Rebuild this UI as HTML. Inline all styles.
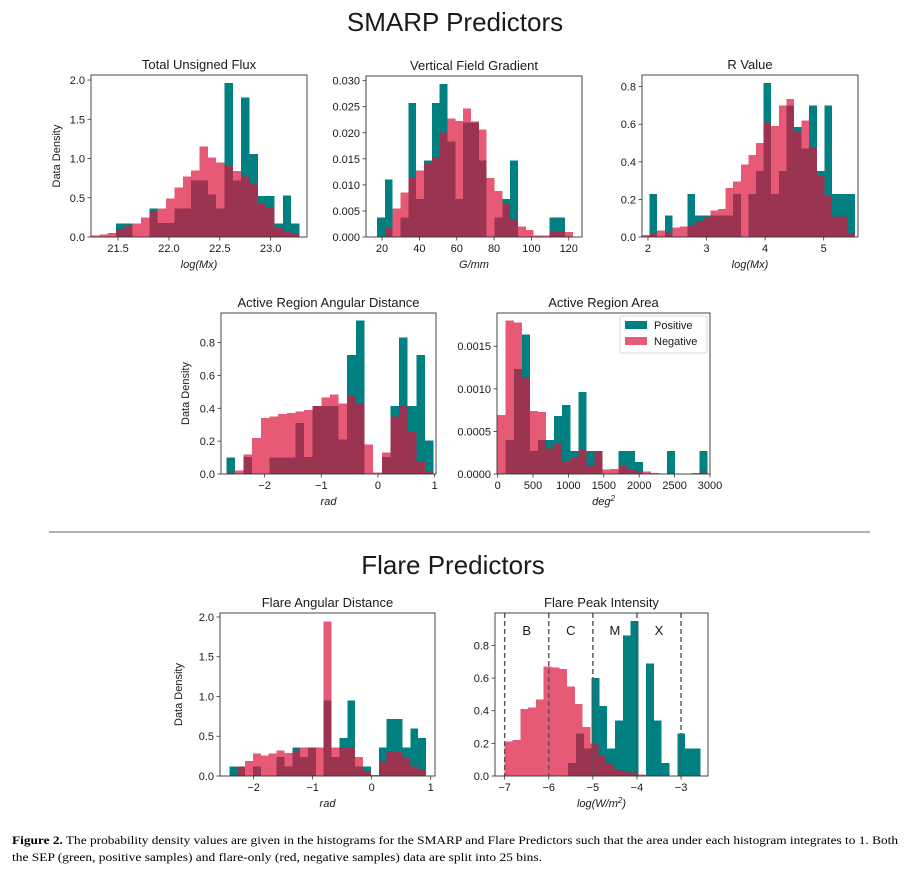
<!DOCTYPE html>
<html><head><meta charset="utf-8"><style>
html,body{margin:0;padding:0;background:#fff;}
svg{display:block;}
text{font-family:"Liberation Sans",sans-serif;fill:#1a1a1a;}
.cap{font-family:"Liberation Serif",serif;font-size:12px;fill:#000;}
</style></head><body>
<svg id="fig" width="908" height="877" viewBox="0 0 908 877" xmlns="http://www.w3.org/2000/svg">
<text x="455" y="31" text-anchor="middle" font-size="26">SMARP Predictors</text>
<line x1="49" y1="532" x2="870" y2="532" stroke="#999" stroke-width="1.5"/>
<text x="453" y="574" text-anchor="middle" font-size="26">Flare Predictors</text>
<text x="12" y="844" class="cap" textLength="886" lengthAdjust="spacingAndGlyphs"><tspan font-weight="bold">Figure 2.</tspan> The probability density values are given in the histograms for the SMARP and Flare Predictors such that the area under each histogram integrates to 1. Both</text>
<text x="12" y="861" class="cap" textLength="530" lengthAdjust="spacingAndGlyphs">the SEP (green, positive samples) and flare-only (red, negative samples) data are split into 25 bins.</text>
</svg>
<script>
// ---- data arrays (densities per bin) ----
const fluxPos=[0,0,0,0.17,0.17,0,0,0.36,0.18,0.18,0.36,0.36,0.72,0.72,0.54,0.36,1.96,0.72,1.78,1.06,0.52,0.52,0.17,0.53,0.17];
const fluxNeg=[0.02,0.03,0.05,0.10,0.14,0.17,0.25,0.33,0.36,0.49,0.63,0.77,0.85,1.15,1.01,0.95,0.91,0.84,0.77,0.68,0.42,0.38,0.13,0.07,0.04];
const vfgPos=[0.0037,0.011,0,0.0037,0.0257,0.0073,0.0147,0.0257,0.0294,0.0183,0.0073,0.022,0.022,0.0147,0,0.0037,0.0073,0.0147,0,0,0,0,0.0037,0.0037,0];
const vfgNeg=[0,0.0018,0.0055,0.0085,0.0113,0.0128,0.014,0.0153,0.0201,0.0227,0.0223,0.0247,0.0222,0.0206,0.0113,0.0088,0.0063,0.0035,0.002,0.0013,0.0003,0.0003,0.001,0.001,0.001];
const rPos=[0,0.23,0,0.115,0,0,0.23,0.115,0.115,0.115,0.115,0.115,0.23,0,0.23,0.35,0.82,0.23,0.35,0.70,0.585,0.47,0.70,0.35,0.70,0.23,0.23,0.23];
const rNeg=[0.01,0.015,0.035,0.025,0.05,0.055,0.06,0.085,0.105,0.14,0.15,0.26,0.295,0.385,0.435,0.5,0.61,0.59,0.70,0.735,0.56,0.62,0.48,0.33,0.22,0.11,0.11,0.02];
const arDistPos=[0.10,0,0.105,0,0,0.10,0.10,0.10,0.31,0.105,0.415,0.415,0.415,0.21,0.725,0.935,0,0,0.105,0.415,0.83,0.415,0.725,0.205];
const arDistNeg=[0.01,0.02,0.12,0.22,0.34,0.35,0.365,0.37,0.38,0.39,0.415,0.465,0.485,0.43,0.475,0.43,0.18,0.01,0.13,0.35,0.415,0.26,0.08,0.015];
const areaPos=[0,0.0004,0.00123,0.00164,0.00027,0.0004,0.0004,0.00068,0.00081,0.00027,0.00096,0.00027,0.00027,0,0,0.00027,0.00027,0.00014,0,0,0,0.00027,0,0,0,0.00027];
const areaNeg=[0.00069,0.0018,0.00178,0.00114,0.00074,0.00073,0.0003,0.00036,0.00015,0.0002,0.00028,0.0001,0.00027,0.00005,0.00006,0.0001,0.00005,0.00003,0.00003,0.00001,0,0.00001,0,0,0.00001,0.00002];
const flDistPos=[0.12,0.12,0,0.12,0,0,0.24,0.12,0.36,0.24,0.36,0,0.95,0.24,0.48,0.95,0.12,0.12,0,0.36,0.72,0.72,0.36,0.60,0.48];
const flDistNeg=[0,0.12,0.19,0.28,0.26,0.28,0.32,0.29,0.32,0.36,0.36,0.36,1.94,0.36,0.36,0.35,0.24,0.06,0.01,0.18,0.31,0.31,0.24,0.12,0.08];
const peakPos=[0.08,0.26,0.17,0.60,0.43,0.17,0.34,0.86,0.95,0,0.69,0.34,0.08,0,0.26,0.17,0.17];
const peakNeg=[0.21,0.22,0.41,0.42,0.47,0.67,0.665,0.655,0.55,0.44,0.30,0.20,0.13,0.08,0.04,0.03,0.02,0.01,0.005];
const fluxTicksX=[21.5,22.0,22.5,23.0], fluxTicksY=[0,0.5,1.0,1.5,2.0];
const vfgTicksX=[20,40,60,80,100,120], vfgTicksY=[0,0.005,0.01,0.015,0.02,0.025,0.03];
const rTicksX=[2,3,4,5], rTicksY=[0,0.2,0.4,0.6,0.8];
const arDistTicksX=[-2,-1,0,1], arDistTicksY=[0,0.2,0.4,0.6,0.8];
const areaTicksX=[0,500,1000,1500,2000,2500,3000], areaTicksY=[0,0.0005,0.001,0.0015];
const flDistTicksX=[-2,-1,0,1], flDistTicksY=[0,0.5,1.0,1.5,2.0];
const peakTicksX=[-7,-6,-5,-4,-3], peakTicksY=[0,0.2,0.4,0.6,0.8];
const flareClasses=['B','C','M','X'];
const flareClassBounds=[-7,-6,-5,-4,-3];

const NS='http://www.w3.org/2000/svg';
const svg=document.getElementById('fig');
function mk(tag,attrs,parent){const e=document.createElementNS(NS,tag);for(const k in attrs)e.setAttribute(k,attrs[k]);(parent||svg).appendChild(e);return e;}
function fmt(v,d){let s=v.toFixed(d);return s.replace('-','\u2212');}

function panel(o){
  const g=mk('g',{});
  
  
  const sx=v=>o.x0+(v-o.xlim[0])/(o.xlim[1]-o.xlim[0])*(o.x1-o.x0);
  const sy=v=>o.y1-(v-o.ylim[0])/(o.ylim[1]-o.ylim[0])*(o.y1-o.y0);
  function bars(vals,start,w,color,op,nm){
    vals.forEach((v,i)=>{ if(v<=0)return;
      const a=sx(start+i*w), b=sx(start+(i+1)*w);
      const r=mk('rect',{x:a,y:sy(v),width:b-a,height:sy(0)-sy(v),fill:color,'fill-opacity':op,'shape-rendering':'crispEdges'},g);
      
      
    });
  }
  bars(o.pos,o.pStart,o.pW,'#008080',1,'positive');
  bars(o.neg,o.nStart,o.nW,'#dc143c',0.7,'negative');
  if(o.extra)o.extra(g,sx,sy);
  const fr=mk('rect',{x:o.x0,y:o.y0,width:o.x1-o.x0,height:o.y1-o.y0,fill:'none',stroke:'#333','stroke-width':0.9},g);
  
  
  o.tx.forEach(v=>{const x=sx(v);
    mk('line',{x1:x,x2:x,y1:o.y1,y2:o.y1+3.5,stroke:'#333','stroke-width':0.8},g);
    const t=mk('text',{x:x,y:o.y1+15,'text-anchor':'middle','font-size':11},g);t.textContent=fmt(v,o.dx);
    
    });
  o.ty.forEach(v=>{const y=sy(v);
    mk('line',{x1:o.x0-3.5,x2:o.x0,y1:y,y2:y,stroke:'#333','stroke-width':0.8},g);
    const t=mk('text',{x:o.x0-6,y:y+4,'text-anchor':'end','font-size':11},g);t.textContent=fmt(v,o.dy);
    
    });
  const ti=mk('text',{x:(o.x0+o.x1)/2,y:o.y0-6,'text-anchor':'middle','font-size':13},g);ti.textContent=o.title;
  
  
  const xl=mk('text',{x:(o.x0+o.x1)/2,y:o.y1+31,'text-anchor':'middle','font-size':11,'font-style':'italic'},g);
  if(o.xlabHtml){xl.innerHTML=o.xlabHtml;}else xl.textContent=o.xlab;
  
  
  if(o.ylab){const cx=o.ylabX,cy=(o.y0+o.y1)/2;
    const yl=mk('text',{x:cx,y:cy,'text-anchor':'middle','font-size':11,transform:`rotate(-90 ${cx} ${cy})`},g);yl.textContent=o.ylab;
    
    }
  return g;
}

panel({name:'total-unsigned-flux-chart',title:'Total Unsigned Flux',x0:91,x1:307,y0:75,y1:237,xlim:[21.234,23.357],ylim:[0,2.064],
  pos:fluxPos,neg:fluxNeg,pStart:21.234,pW:0.082,nStart:21.234,nW:0.082,tx:fluxTicksX,ty:fluxTicksY,dx:1,dy:1,xlab:'log(Mx)',ylab:'Data Density',ylabX:60});
panel({name:'vertical-field-gradient-chart',title:'Vertical Field Gradient',x0:366,x1:582,y0:76,y1:237,xlim:[11.4,127.1],ylim:[0,0.0309],
  pos:vfgPos,neg:vfgNeg,pStart:17.3,pW:4.196,nStart:17.3,nW:4.196,tx:vfgTicksX,ty:vfgTicksY,dx:0,dy:3,xlab:'G/mm'});
panel({name:'r-value-chart',title:'R Value',x0:642,x1:858,y0:75,y1:237,xlim:[1.898,5.586],ylim:[0,0.862],
  pos:rPos,neg:rNeg,pStart:1.898,pW:0.1298,nStart:1.898,nW:0.1298,tx:rTicksX,ty:rTicksY,dx:0,dy:1,xlab:'log(Mx)'});
panel({name:'ar-angular-distance-chart',title:'Active Region Angular Distance',x0:221,x1:436,y0:313,y1:474,xlim:[-2.77,1.024],ylim:[0,0.98],
  pos:arDistPos,neg:arDistNeg,pStart:-2.676,pW:0.1524,nStart:-2.676,nW:0.1524,tx:arDistTicksX,ty:arDistTicksY,dx:0,dy:1,xlab:'rad',ylab:'Data Density',ylabX:189});
panel({name:'ar-area-chart',title:'Active Region Area',x0:497,x1:710,y0:313,y1:474,xlim:[-9,3000],ylim:[0,0.00189],
  pos:areaPos,neg:areaNeg,pStart:0,pW:114,nStart:0,nW:114,tx:areaTicksX,ty:areaTicksY,dx:0,dy:4,xlabHtml:'deg<tspan dy="-4" font-size="8">2</tspan>',
  extra:function(g){
    const lg=mk('g',{},g);
    
    
    mk('rect',{x:620,y:316,width:87,height:37,rx:2,fill:'#fff','fill-opacity':0.8,stroke:'#ccc','stroke-width':0.8},lg);
    const items=[['Positive','#008080',1],['Negative','#dc143c',0.7]];
    items.forEach((it,i)=>{const y=321+i*16;
      const e=mk('g',{},lg);
      
      
      mk('rect',{x:625,y:y,width:22,height:8,fill:it[1],'fill-opacity':it[2]},e);
      const t=mk('text',{x:654,y:y+8,'font-size':11},e);t.textContent=it[0];});
  }});
panel({name:'flare-angular-distance-chart',title:'Flare Angular Distance',x0:220,x1:435,y0:613,y1:776,xlim:[-2.57,1.073],ylim:[0,2.05],
  pos:flDistPos,neg:flDistNeg,pStart:-2.412,pW:0.1333,nStart:-2.412,nW:0.1333,tx:flDistTicksX,ty:flDistTicksY,dx:0,dy:1,xlab:'rad',ylab:'Data Density',ylabX:182});
panel({name:'flare-peak-intensity-chart',title:'Flare Peak Intensity',x0:495,x1:708,y0:613,y1:776,xlim:[-7.219,-2.389],ylim:[0,0.999],
  pos:peakPos,neg:peakNeg,pStart:-5.558,pW:0.1766,nStart:-7,nW:0.177,tx:peakTicksX,ty:peakTicksY,dx:0,dy:1,xlabHtml:'log(W/m<tspan dy="-4" font-size="8">2</tspan><tspan dy="4">)</tspan>',
  extra:function(g,sx,sy){
    flareClassBounds.forEach(b=>{const l=mk('line',{x1:sx(b),x2:sx(b),y1:613,y2:776,stroke:'#555','stroke-width':1.4,'stroke-dasharray':'5,3'},g);
      
      });
    flareClasses.forEach((c,i)=>{const t=mk('text',{x:sx((flareClassBounds[i]+flareClassBounds[i+1])/2),y:635,'text-anchor':'middle','font-size':13},g);t.textContent=c;
      
      });
  }});
</script>
</body></html>
